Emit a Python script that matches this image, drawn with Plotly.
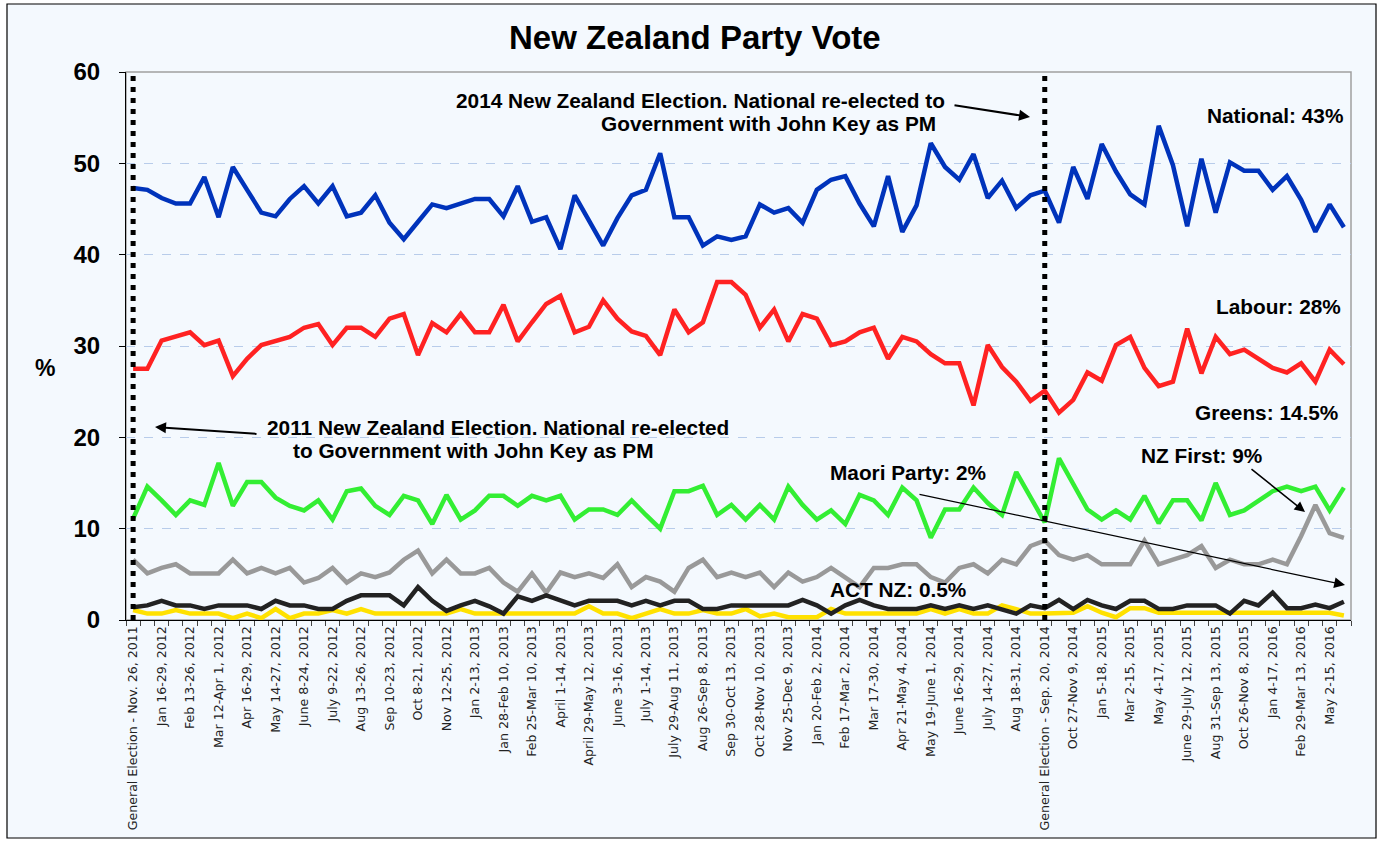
import plotly.graph_objects as go

# ---------------- data ----------------
tick_labels = [
    "General Election - Nov. 26, 2011", "Jan 16-29, 2012", "Feb 13-26, 2012", "Mar 12-Apr 1, 2012",
    "Apr 16-29, 2012", "May 14-27, 2012", "June 8-24, 2012", "July 9-22, 2012", "Aug 13-26, 2012",
    "Sep 10-23, 2012", "Oct 8-21, 2012", "Nov 12-25, 2012", "Jan 2-13, 2013", "Jan 28-Feb 10, 2013",
    "Feb 25-Mar 10, 2013", "April 1-14, 2013", "April 29-May 12, 2013", "June 3-16, 2013",
    "July 1-14, 2013", "July 29-Aug 11, 2013", "Aug 26-Sep 8, 2013", "Sep 30-Oct 13, 2013",
    "Oct 28-Nov 10, 2013", "Nov 25-Dec 9, 2013", "Jan 20-Feb 2, 2014", "Feb 17-Mar 2, 2014",
    "Mar 17-30, 2014", "Apr 21-May 4, 2014", "May 19-June 1, 2014", "June 16-29, 2014",
    "July 14-27, 2014", "Aug 18-31, 2014", "General Election - Sep. 20, 2014", "Oct 27-Nov 9, 2014",
    "Jan 5-18, 2015", "Mar 2-15, 2015", "May 4-17, 2015", "June 29-July 12, 2015",
    "Aug 31-Sep 13, 2015", "Oct 26-Nov 8, 2015", "Jan 4-17, 2016", "Feb 29-Mar 13, 2016",
    "May 2-15, 2016",
]
label_every = 2  # one labelled poll every second poll

national = [47.3, 47.1, 46.2, 45.6, 45.6, 48.5, 44.1, 49.6, 47.1, 44.6, 44.2, 46.1, 47.5, 45.6, 47.5,
            44.2, 44.6, 46.5, 43.5, 41.7, 43.6, 45.5, 45.1, 45.6, 46.1, 46.1, 44.2, 47.5, 43.6, 44.1,
            40.6, 46.5, 43.8, 41.0, 44.0, 46.5, 47.1, 51.1, 44.1, 44.1, 41.0, 42.0, 41.6, 42.0, 45.5,
            44.6, 45.1, 43.5, 47.1, 48.2, 48.6, 45.6, 43.1, 48.6, 42.5, 45.4, 52.2, 49.6, 48.2, 51.0,
            46.2, 48.1, 45.1, 46.5, 47.0, 43.5, 49.6, 46.1, 52.1, 49.1, 46.6, 45.5, 54.1, 49.8, 43.1,
            50.5, 44.6, 50.1, 49.2, 49.2, 47.1, 48.6, 46.0, 42.5, 45.5, 43.0]
labour = [27.5, 27.5, 30.6, 31.1, 31.5, 30.1, 30.6, 26.7, 28.6, 30.1, 30.5, 31.0, 32.0, 32.4, 30.1,
          32.0, 32.0, 31.0, 33.0, 33.5, 29.0, 32.5, 31.5, 33.5, 31.5, 31.5, 34.5, 30.5, 32.6, 34.6,
          35.5, 31.5, 32.1, 35.0, 33.0, 31.6, 31.1, 29.0, 34.0, 31.5, 32.6, 37.0, 37.0, 35.6, 32.0,
          34.0, 30.5, 33.5, 33.0, 30.1, 30.5, 31.5, 32.0, 28.6, 31.0, 30.5, 29.1, 28.1, 28.1, 23.5,
          30.1, 27.7, 26.1, 24.0, 25.1, 22.7, 24.1, 27.1, 26.2, 30.1, 31.0, 27.6, 25.6, 26.1, 31.9,
          27.0, 31.0, 29.1, 29.6, 28.6, 27.6, 27.1, 28.1, 26.1, 29.6, 28.0]
greens = [11.1, 14.6, 13.1, 11.5, 13.1, 12.6, 17.2, 12.5, 15.1, 15.1, 13.4, 12.5, 12.0, 13.1, 11.0,
          14.1, 14.4, 12.5, 11.5, 13.6, 13.1, 10.5, 13.7, 11.0, 12.0, 13.6, 13.6, 12.5, 13.6, 13.1,
          13.6, 11.0, 12.1, 12.1, 11.5, 13.1, 11.5, 10.0, 14.1, 14.1, 14.7, 11.5, 12.6, 11.0, 12.6,
          11.0, 14.6, 12.6, 11.0, 12.0, 10.5, 13.7, 13.1, 11.5, 14.5, 13.1, 9.0, 12.1, 12.1, 14.5,
          12.8, 11.5, 16.2, 13.5, 10.7, 17.7, 15.0, 12.1, 11.0, 12.0, 11.0, 13.6, 10.6, 13.1, 13.1,
          10.9, 15.0, 11.5, 12.0, 13.1, 14.1, 14.6, 14.1, 14.6, 12.0, 14.5]
nz_first = [6.6, 5.1, 5.7, 6.1, 5.1, 5.1, 5.1, 6.6, 5.1, 5.7, 5.1, 5.7, 4.1, 4.6, 5.7, 4.1, 5.1, 4.7,
            5.2, 6.6, 7.6, 5.1, 6.6, 5.1, 5.1, 5.7, 4.1, 3.1, 5.1, 3.0, 5.2, 4.7, 5.1, 4.6, 6.1, 3.6,
            4.7, 4.2, 3.1, 5.7, 6.6, 4.7, 5.2, 4.7, 5.2, 3.6, 5.2, 4.2, 4.7, 5.7, 4.7, 3.6, 5.7, 5.7,
            6.1, 6.1, 4.7, 4.1, 5.7, 6.1, 5.1, 6.6, 6.1, 8.1, 8.7, 7.1, 6.6, 7.1, 6.1, 6.1, 6.1, 8.7,
            6.1, 6.6, 7.1, 8.1, 5.7, 6.6, 6.1, 6.1, 6.6, 6.1, 9.2, 12.6, 9.5, 9.0]
maori = [1.4, 1.6, 2.1, 1.6, 1.6, 1.2, 1.6, 1.6, 1.6, 1.2, 2.1, 1.6, 1.6, 1.2, 1.2, 2.1, 2.7, 2.7,
         2.7, 1.6, 3.6, 2.1, 1.0, 1.6, 2.1, 1.5, 0.7, 2.6, 2.1, 2.7, 2.2, 1.6, 2.1, 2.1, 2.1, 1.6,
         2.1, 1.6, 2.1, 2.1, 1.2, 1.2, 1.6, 1.6, 1.6, 1.6, 1.6, 2.2, 1.6, 0.7, 1.6, 2.2, 1.6, 1.2,
         1.2, 1.2, 1.6, 1.2, 1.6, 1.2, 1.6, 1.2, 0.7, 1.6, 1.3, 2.2, 1.2, 2.2, 1.6, 1.2, 2.1, 2.1,
         1.2, 1.2, 1.6, 1.6, 1.6, 0.7, 2.1, 1.6, 3.0, 1.3, 1.3, 1.7, 1.3, 2.0]
act = [1.1, 0.7, 0.7, 1.1, 0.7, 0.7, 0.7, 0.2, 0.7, 0.2, 1.2, 0.2, 0.7, 0.7, 1.1, 0.7, 1.2, 0.7,
       0.7, 0.7, 0.7, 0.7, 0.7, 1.2, 0.7, 0.7, 0.7, 0.7, 0.7, 0.7, 0.7, 0.7, 1.5, 0.7, 0.7, 0.2,
       0.7, 1.2, 0.7, 0.7, 1.1, 0.7, 0.7, 1.2, 0.4, 0.7, 0.3, 0.3, 0.3, 1.2, 0.7, 0.7, 0.7, 0.7,
       0.7, 0.7, 1.2, 0.7, 1.2, 0.7, 0.7, 1.6, 1.2, 0.7, 0.7, 0.8, 0.8, 1.5, 0.8, 0.3, 1.3, 1.3,
       0.8, 0.8, 0.8, 0.8, 0.8, 0.8, 0.8, 0.8, 0.8, 0.8, 0.8, 0.8, 0.8, 0.5]

series = [
    ("National", national, "#0033BB"),
    ("Labour", labour, "#FF2222"),
    ("Greens", greens, "#33EE33"),
    ("NZ First", nz_first, "#999999"),
    ("ACT NZ", act, "#FFE100"),
    ("Maori Party", maori, "#222222"),
]

# ---------------- layout geometry ----------------
FIG_W, FIG_H = 1383, 843
L, R, T, B = 126, 32, 72, 223
PW = FIG_W - L - R
PH = FIG_H - T - B


def px(x):
    return (x - L) / PW


def py(y):
    return (FIG_H - B - y) / PH


n = len(national)
xs = list(range(n))
tickvals = [i * label_every for i in range(len(tick_labels))]
elections = [tickvals[k] for k, t in enumerate(tick_labels) if t.startswith("General Election")]

fig = go.Figure()
for name, vals, color in series:
    fig.add_trace(go.Scatter(x=xs, y=vals, mode="lines", name=name,
                             line=dict(color=color, width=4.5)))

BG = "#F4F9FE"
shapes = [
    # outer frame
    dict(type="rect", xref="paper", yref="paper", x0=px(7), x1=px(1376), y0=py(838), y1=py(4),
         line=dict(color="#000000", width=1.2), fillcolor=BG, layer="below"),
    # plot border (top/right grey)
    dict(type="rect", xref="paper", yref="paper", x0=0, x1=1, y0=0, y1=1,
         line=dict(color="#A0A0A0", width=1.5), fillcolor="rgba(0,0,0,0)", layer="below"),
]
for e in elections:
    shapes.append(dict(type="line", xref="x", yref="y", x0=e, x1=e, y0=0, y1=60,
                       line=dict(color="#000000", width=5, dash="5px,6px"), layer="above"))

FONT = "Liberation Sans, Arial, sans-serif"
ANN = 20.8


def text(t, x, y, anchor="left", size=ANN):
    return dict(text=t, x=px(x), y=py(y), xref="paper", yref="paper", showarrow=False,
                xanchor=anchor, yanchor="middle",
                font=dict(family=FONT, size=size, color="#000000", weight="bold"))


def arrow(hx, hy, tx, ty, width=2, size=1.0):
    return dict(text="", x=px(hx), y=py(hy), xref="paper", yref="paper", showarrow=True,
                ax=tx - hx, ay=ty - hy, axref="pixel", ayref="pixel",
                arrowhead=2, arrowsize=size, arrowwidth=width, arrowcolor="#000000")


annotations = [
    text("New Zealand Party Vote", 695, 37, "center", 33),
    text("%", 45, 368, "center", 23),
    text("2014 New Zealand Election. National re-elected to", 947, 100, "right"),
    text("Government with John Key as PM", 938, 123, "right"),
    text("2011 New Zealand Election. National re-elected", 265, 427, "left"),
    text("to Government with John Key as PM", 291, 450, "left"),
    text("National: 43%", 1345, 115, "right"),
    text("Labour: 28%", 1343, 306, "right"),
    text("Greens: 14.5%", 1340, 412, "right"),
    text("NZ First: 9%", 1139, 455, "left"),
    text("Maori Party: 2%", 828, 472, "left"),
    text("ACT NZ: 0.5%", 828, 589, "left"),
    arrow(1030, 117, 953, 105, 2, 1.1),
    arrow(155, 427, 258, 434, 2, 1.1),
    arrow(1305, 512, 1250, 468, 1.6, 1.3),
    arrow(1345, 585, 918, 494, 1.2, 1.8),
]

fig.update_layout(
    width=FIG_W, height=FIG_H,
    margin=dict(l=L, r=R, t=T, b=B, pad=0),
    paper_bgcolor="#FFFFFF", plot_bgcolor="rgba(0,0,0,0)",
    showlegend=False,
    shapes=shapes, annotations=annotations,
    xaxis=dict(range=[-0.5, n - 0.5], tickmode="array", tickvals=tickvals, ticktext=tick_labels,
               tickangle=-90, ticks="", showgrid=False, zeroline=False,
               showline=True, linecolor="#000000", linewidth=1.2,
               tickfont=dict(family="DejaVu Sans, Verdana, sans-serif", size=12.6, color="#222222"),
               minor=dict(tickmode="array", tickvals=[i - 0.5 for i in range(n + 1)],
                          ticks="outside", ticklen=5, tickwidth=1, tickcolor="#444444",
                          showgrid=False)),
    yaxis=dict(range=[0, 60], tickmode="linear", tick0=0, dtick=10, ticks="outside", ticklen=6,
               tickcolor="#000000", showline=True, linecolor="#000000", linewidth=1.2,
               showgrid=True, gridcolor="#B8CCEA", griddash="dash", gridwidth=1, zeroline=False,
               ticklabelstandoff=14,
               tickfont=dict(family=FONT, size=24, color="#000000", weight="bold")),
)

fig.write_html("out.html", post_script="document.body.style.margin='0';",
               config={"displayModeBar": False})
